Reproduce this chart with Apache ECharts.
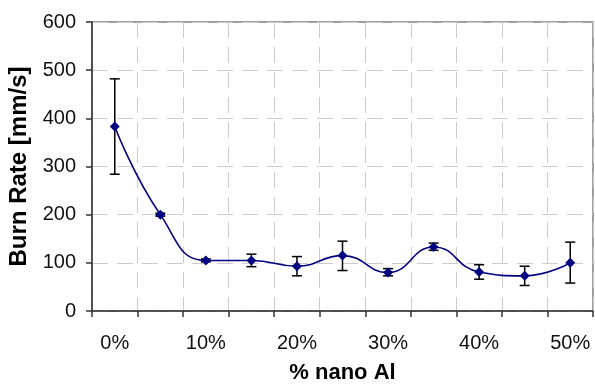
<!DOCTYPE html>
<html>
<head>
<meta charset="utf-8">
<script src="https://cdn.jsdelivr.net/npm/echarts@6/dist/echarts.min.js"></script>
<style>
html,body{margin:0;padding:0;background:#fff;}
#chart{width:595px;height:384px;}
</style>
</head>
<body>
<div id="chart"></div>
<script>
var categories = ['0%','5%','10%','15%','20%','25%','30%','35%','40%','45%','50%'];
var burnRate = [383, 200, 105, 105, 93, 115, 80, 133, 81, 73, 100];
var errorMinus = [99, 3, 3, 13, 20, 31, 7, 7, 15, 20, 42];
var errorPlus  = [99, 3, 3, 13, 20, 30, 8, 8, 15, 20, 43];
var yTicks = [0, 100, 200, 300, 400, 500, 600];

var errData = categories.map(function (c, i) {
  return [i, burnRate[i] - errorMinus[i], burnRate[i] + errorPlus[i]];
});

var chart = echarts.init(document.getElementById('chart'), null, {renderer: 'canvas'});
var font = 'Liberation Sans, Arial, sans-serif';
chart.setOption({
  animation: false,
  backgroundColor: '#ffffff',
  grid: {
    left: 92, top: 22, right: 2, bottom: 73,
    containLabel: false,
    outerBoundsMode: 'none',
    show: true, borderColor: '#808080', borderWidth: 1.5, backgroundColor: 'transparent'
  },
  xAxis: {
    type: 'category',
    data: categories,
    boundaryGap: true,
    name: '% nano Al',
    nameLocation: 'middle',
    nameGap: 51,
    nameTextStyle: {fontFamily: font, fontSize: 22, fontWeight: 'bold', color: '#000'},
    axisLine: {lineStyle: {color: '#333', width: 1.5}},
    axisTick: {show: true, interval: 0, length: 6, lineStyle: {color: '#333', width: 1.5}},
    axisLabel: {interval: 1, margin: 22, fontFamily: font, fontSize: 20, color: '#111'},
    splitLine: {show: true, interval: 0, lineStyle: {color: '#cccccc', type: [16, 9], width: 1}}
  },
  yAxis: {
    type: 'value',
    min: yTicks[0],
    max: yTicks[yTicks.length - 1],
    interval: 100,
    name: 'Burn Rate [mm/s]',
    nameLocation: 'middle',
    nameGap: 58,
    nameTextStyle: {fontFamily: font, fontSize: 24, fontWeight: 'bold', color: '#000'},
    axisLine: {show: true, lineStyle: {color: '#333', width: 1.5}},
    axisTick: {show: true, length: 6, lineStyle: {color: '#333', width: 1.5}},
    axisLabel: {margin: 16, fontFamily: font, fontSize: 20, color: '#111'},
    splitLine: {show: true, lineStyle: {color: '#cccccc', type: [16, 9], width: 1}}
  },
  series: [
    {
      type: 'custom',
      z: 3,
      data: errData,
      encode: {x: 0, y: [1, 2]},
      renderItem: function (params, api) {
        var x = api.value(0);
        var lo = api.coord([x, api.value(1)]);
        var hi = api.coord([x, api.value(2)]);
        var hw = 5;
        var style = {stroke: '#000', lineWidth: 1.5};
        return {
          type: 'group',
          children: [
            {type: 'line', shape: {x1: lo[0], y1: lo[1], x2: hi[0], y2: hi[1]}, style: style},
            {type: 'line', shape: {x1: hi[0] - hw, y1: hi[1], x2: hi[0] + hw, y2: hi[1]}, style: style},
            {type: 'line', shape: {x1: lo[0] - hw, y1: lo[1], x2: lo[0] + hw, y2: lo[1]}, style: style}
          ]
        };
      }
    },
    {
      type: 'line',
      z: 4,
      data: burnRate,
      smooth: 0.5,
      symbol: 'diamond',
      symbolSize: 10,
      itemStyle: {color: '#000080'},
      lineStyle: {color: '#000080', width: 1.6}
    }
  ]
});
</script>
</body>
</html>
